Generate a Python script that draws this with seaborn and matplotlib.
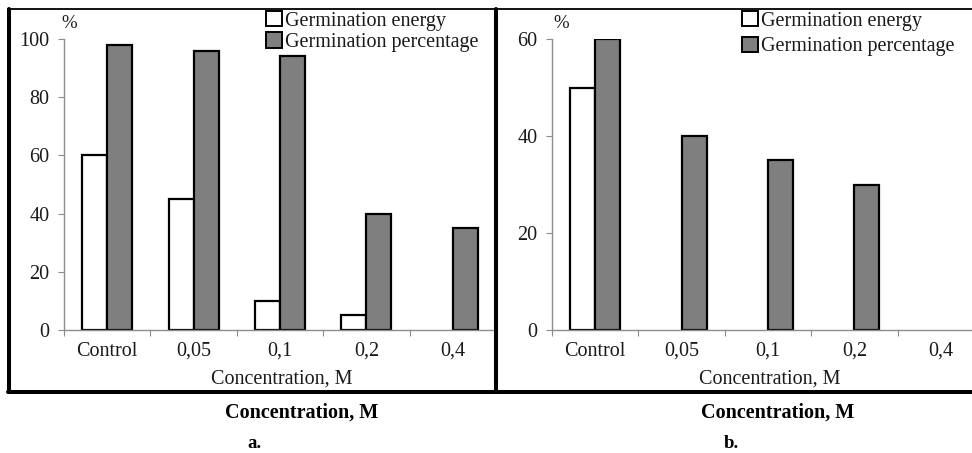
import numpy as np
import pandas as pd
import matplotlib
matplotlib.use("Agg")
import matplotlib.pyplot as plt
import seaborn as sns
from matplotlib.patches import Rectangle
from matplotlib.lines import Line2D

# ---------------- data ----------------
categories = ["Control", "0,05", "0,1", "0,2", "0,4"]
series_names = ["Germination energy", "Germination percentage"]
energy_a = [60, 45, 10, 5, 0]
percentage_a = [98, 96, 94, 40, 35]
energy_b = [50, 0, 0, 0, 0]
percentage_b = [60, 40, 35, 30, 0]
yticks_a = [0, 20, 40, 60, 80, 100]
yticks_b = [0, 20, 40, 60]
axis_title = "Concentration, M"
bold_title = "Concentration, M"
panel_labels = ["a.", "b."]
unit_label = "%"

# ---------------- style ----------------
sns.set_theme(style="white")
plt.rcParams['font.family'] = ['Liberation Serif', 'DejaVu Serif']

W, H = 972, 453
fig = plt.figure(figsize=(W / 100, H / 100), dpi=100)
fig.patch.set_facecolor("white")


def fx(px):
    return px / W


def fy(py):
    return 1 - py / H


FS = 14.5
TICK_COL = "#8c8c8c"
TXT_COL = "#1a1a1a"
palette = {series_names[0]: "white", series_names[1]: "#7f7f7f"}


def make_df(energy, percentage):
    return pd.DataFrame({
        "Concentration": categories * 2,
        "Series": [series_names[0]] * len(categories) + [series_names[1]] * len(categories),
        "Value": list(energy) + list(percentage),
    })


def draw_panel(ax, energy, percentage, yticks):
    df = make_df(energy, percentage)
    sns.barplot(data=df, x="Concentration", y="Value", hue="Series",
                order=categories, hue_order=series_names, palette=palette,
                saturation=1, edgecolor="black", linewidth=1.6, width=0.58,
                legend=False, ax=ax)
    for p in ax.patches:
        if p.get_height() == 0:
            p.set_visible(False)
    ax.set_xlim(-0.5, len(categories) - 0.5)
    ax.set_ylim(yticks[0], yticks[-1])
    ax.set_facecolor("white")
    for s in ["top", "right"]:
        ax.spines[s].set_visible(False)
    for s in ["left", "bottom"]:
        ax.spines[s].set_color(TICK_COL)
        ax.spines[s].set_linewidth(1.0)
    ax.set_yticks(yticks)
    ax.set_ylabel("")
    ax.tick_params(axis="y", direction="out", length=4.3, width=0.8, color=TICK_COL,
                   labelsize=FS, labelcolor=TXT_COL, pad=6, left=True)
    ax.set_xticks(range(len(categories)))
    ax.set_xticklabels(categories)
    ax.set_xticks(np.arange(-0.5, len(categories)), minor=True)
    ax.tick_params(axis="x", which="major", length=0, labelsize=FS,
                   labelcolor=TXT_COL, pad=8.5)
    ax.tick_params(axis="x", which="minor", direction="out", length=4.3, width=0.8,
                   color=TICK_COL, bottom=True)
    ax.set_xlabel(axis_title, fontsize=FS, color=TXT_COL)
    ax.xaxis.set_label_coords(0.505, -0.168)
    ax.xaxis.label.set_verticalalignment("center")
    ax.grid(False)


ax_w = fx(496) - fx(64)
ax_h = fy(39) - fy(330)
axA = fig.add_axes([fx(64), fy(330), ax_w, ax_h])
axB = fig.add_axes([fx(552), fy(330), ax_w, ax_h])
draw_panel(axA, energy_a, percentage_a, yticks_a)
draw_panel(axB, energy_b, percentage_b, yticks_b)

# "%" unit labels
fig.text(fx(69), fy(24), unit_label, ha="center", va="center", fontsize=FS - 1, color=TXT_COL)
fig.text(fx(561), fy(24), unit_label, ha="center", va="center", fontsize=FS - 1, color=TXT_COL)

# legends
handles = [Rectangle((0, 0), 1, 1, facecolor=palette[n], edgecolor="black", linewidth=1.4)
           for n in series_names]
fig.legend(handles, series_names, loc="upper left", bbox_to_anchor=(fx(266), fy(11)),
           bbox_transform=fig.transFigure, frameon=False, fontsize=FS,
           handlelength=0.8, handleheight=0.8, handletextpad=0.15, labelspacing=0.08,
           borderpad=0, borderaxespad=0, labelcolor=TXT_COL)
fig.legend(handles, series_names, loc="upper left", bbox_to_anchor=(fx(742), fy(11)),
           bbox_transform=fig.transFigure, frameon=False, fontsize=FS,
           handlelength=0.8, handleheight=0.8, handletextpad=0.15, labelspacing=0.3,
           borderpad=0, borderaxespad=0, labelcolor=TXT_COL)

# panel frames
thick = 2.9
thin = 1.3
fig.add_artist(Line2D([fx(9), fx(9)], [fy(9), fy(392)], color="black", lw=thick,
                      transform=fig.transFigure))
fig.add_artist(Line2D([fx(496), fx(496)], [fy(9), fy(392)], color="black", lw=thick,
                      transform=fig.transFigure))
fig.add_artist(Line2D([fx(8), fx(972)], [fy(9), fy(9)], color="black", lw=thin,
                      transform=fig.transFigure))
fig.add_artist(Line2D([fx(8), fx(972)], [fy(392), fy(392)], color="black", lw=thick,
                      transform=fig.transFigure))

# bold captions below the panels
BFS = 14.5
fig.text(fx(302), fy(413), bold_title, ha="center", va="center", fontsize=BFS,
         fontweight="bold", color="black")
fig.text(fx(778), fy(413), bold_title, ha="center", va="center", fontsize=BFS,
         fontweight="bold", color="black")
fig.text(fx(254), fy(443), panel_labels[0], ha="center", va="center", fontsize=BFS - 1,
         fontweight="bold", color="black")
fig.text(fx(731), fy(443), panel_labels[1], ha="center", va="center", fontsize=BFS - 1,
         fontweight="bold", color="black")

fig.savefig("out.png", dpi=100, facecolor="white")
